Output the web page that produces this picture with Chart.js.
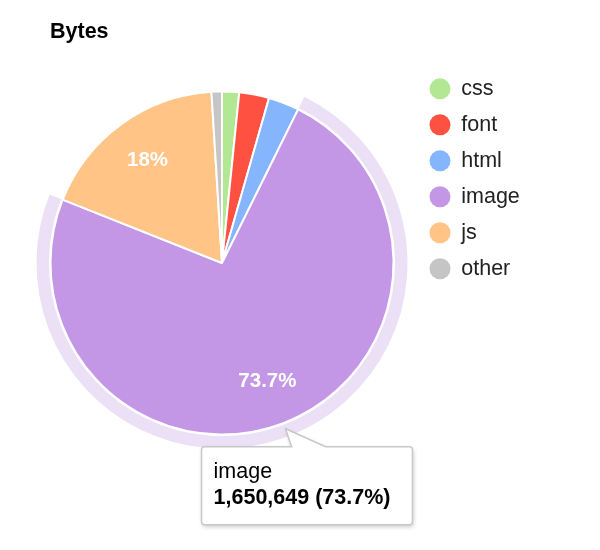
<!DOCTYPE html>
<html>
<head>
<meta charset="utf-8">
<script src="https://cdn.jsdelivr.net/npm/chart.js@4/dist/chart.umd.min.js"></script>
<style>
html,body{margin:0;padding:0;background:#fff;}
#wrap{width:600px;height:550px;}
</style>
</head>
<body>
<div id="wrap"><canvas id="c" width="600" height="550"></canvas></div>
<script>
// ---- data ----
const categories = ['css', 'font', 'html', 'image', 'js', 'other'];
const byteValues = [36000, 63000, 65000, 1650649, 403000, 22000];
const sliceColors = ['#B2E893', '#FF5141', '#85B5FC', '#C397E5', '#FFC486', '#C5C5C5'];
const chartTitle = 'Bytes';
const highlightedCategory = 'image';

const FONT = '"Liberation Sans", Arial, Helvetica, sans-serif';
const haloColor = '#ECE0F6';
const LEGEND_FONT_SIZE = 21.5;
const LEGEND_PAD = 14.5;
const LEGEND_BOX = 21;
const LEGEND_LEFT = 415;

// legend width measured from its texts, so the pie stays centred
const measureCtx = document.createElement('canvas').getContext('2d');
measureCtx.font = LEGEND_FONT_SIZE + 'px ' + FONT;
const maxLabelWidth = Math.max(...categories.map(c => measureCtx.measureText(c).width));
const legendWidth = Math.ceil(LEGEND_PAD + LEGEND_BOX + LEGEND_FONT_SIZE / 2 + maxLabelWidth + 2);

// spacer box between plot area and legend
const legendSpacer = {
  id: 'legendSpacer',
  beforeInit(chart) {
    const box = {
      position: 'right', weight: 500, fullSize: false, options: {},
      width: 0, height: 0, left: 0, top: 0, right: 0, bottom: 0,
      isHorizontal() { return false; },
      update(maxWidth, maxHeight) { this.width = 21; this.height = maxHeight; return {}; },
      draw() {}
    };
    Chart.layouts.addBox(chart, box);
  }
};

function pctOf(i, values) {
  const total = values.reduce((a, b) => a + b, 0);
  return values[i] / total * 100;
}

const sliceExtras = {
  id: 'sliceExtras',
  afterDatasetsDraw(chart) {
    const ctx = chart.ctx;
    const meta = chart.getDatasetMeta(0);
    const values = chart.data.datasets[0].data;
    const hi = chart.data.labels.indexOf(highlightedCategory);
    ctx.save();
    const arc = meta.data[hi];
    if (arc) {
      ctx.beginPath();
      ctx.arc(arc.x, arc.y, arc.outerRadius + 7.75, arc.startAngle, arc.endAngle);
      ctx.lineWidth = 12.5;
      ctx.strokeStyle = haloColor;
      ctx.stroke();
    }
    ctx.fillStyle = '#fff';
    ctx.font = 'bold 20.5px ' + FONT;
    ctx.textAlign = 'center';
    ctx.textBaseline = 'middle';
    meta.data.forEach((a, i) => {
      const pct = pctOf(i, values);
      if (pct < 5) return;
      const mid = (a.startAngle + a.endAngle) / 2;
      const r = a.outerRadius * 0.74;
      ctx.fillText(parseFloat(pct.toFixed(1)) + '%', a.x + Math.cos(mid) * r, a.y + Math.sin(mid) * r);
    });
    ctx.restore();
  },
  afterDraw(chart) {
    const ctx = chart.ctx;
    const meta = chart.getDatasetMeta(0);
    const values = chart.data.datasets[0].data;
    const hi = chart.data.labels.indexOf(highlightedCategory);
    const arc = meta.data[hi];
    if (!arc) return;
    const mid = (arc.startAngle + arc.endAngle) / 2;
    const tr = arc.outerRadius + 6;
    const tipX = arc.x + Math.cos(mid) * tr;
    const tipY = arc.y + Math.sin(mid) * tr;
    const line1 = chart.data.labels[hi];
    const line2 = values[hi].toLocaleString('en-US') + ' (' + pctOf(hi, values).toFixed(1) + '%)';
    ctx.save();
    ctx.font = '21.5px ' + FONT;
    const w1 = ctx.measureText(line1).width;
    ctx.font = 'bold 21.5px ' + FONT;
    const w2 = ctx.measureText(line2).width;
    const L = tipX - 84, T = tipY + 18;
    const W = Math.max(w1, w2) + 34, H = 78, rad = 3;
    const b1 = tipX + 6, b2 = tipX + 40;
    ctx.beginPath();
    ctx.moveTo(L + rad, T);
    ctx.lineTo(b1, T);
    ctx.lineTo(tipX, tipY);
    ctx.lineTo(b2, T);
    ctx.lineTo(L + W - rad, T);
    ctx.quadraticCurveTo(L + W, T, L + W, T + rad);
    ctx.lineTo(L + W, T + H - rad);
    ctx.quadraticCurveTo(L + W, T + H, L + W - rad, T + H);
    ctx.lineTo(L + rad, T + H);
    ctx.quadraticCurveTo(L, T + H, L, T + H - rad);
    ctx.lineTo(L, T + rad);
    ctx.quadraticCurveTo(L, T, L + rad, T);
    ctx.closePath();
    ctx.shadowColor = 'rgba(0,0,0,0.22)';
    ctx.shadowBlur = 4;
    ctx.shadowOffsetX = 1;
    ctx.shadowOffsetY = 2;
    ctx.fillStyle = '#fff';
    ctx.fill();
    ctx.shadowColor = 'transparent';
    ctx.lineWidth = 1.5;
    ctx.strokeStyle = '#C8C8C8';
    ctx.stroke();
    ctx.fillStyle = '#000';
    ctx.textAlign = 'left';
    ctx.textBaseline = 'middle';
    ctx.font = '21.5px ' + FONT;
    ctx.fillText(line1, L + 12, T + 25);
    ctx.font = 'bold 21.5px ' + FONT;
    ctx.fillText(line2, L + 12, T + 51);
    ctx.restore();
  }
};

new Chart(document.getElementById('c'), {
  type: 'pie',
  data: {
    labels: categories,
    datasets: [{
      data: byteValues,
      backgroundColor: sliceColors,
      borderColor: '#ffffff',
      borderWidth: 2,
      hoverOffset: 0
    }]
  },
  options: {
    responsive: false,
    animation: false,
    devicePixelRatio: 1,
    events: [],
    radius: 171.5,
    layout: { padding: { left: 50, right: 600 - LEGEND_LEFT - legendWidth, top: 0, bottom: 87.55 } },
    plugins: {
      title: {
        display: true,
        text: chartTitle,
        align: 'start',
        color: '#000',
        font: { family: FONT, size: 21.5, weight: 'bold' },
        padding: { top: 19.1, bottom: 18.65 }
      },
      legend: {
        position: 'right',
        align: 'start',
        fullSize: false,
        maxWidth: legendWidth,
        labels: {
          usePointStyle: true,
          pointStyle: 'circle',
          pointStyleWidth: LEGEND_BOX,
          boxHeight: 14.85,
          padding: LEGEND_PAD,
          color: '#222',
          font: { family: FONT, size: LEGEND_FONT_SIZE },
          generateLabels(chart) {
            const items = Chart.overrides.doughnut.plugins.legend.labels.generateLabels(chart);
            return items.map(it => Object.assign(it, { lineWidth: 0 }));
          }
        }
      },
      tooltip: { enabled: false }
    }
  },
  plugins: [legendSpacer, sliceExtras]
});
</script>
</body>
</html>
